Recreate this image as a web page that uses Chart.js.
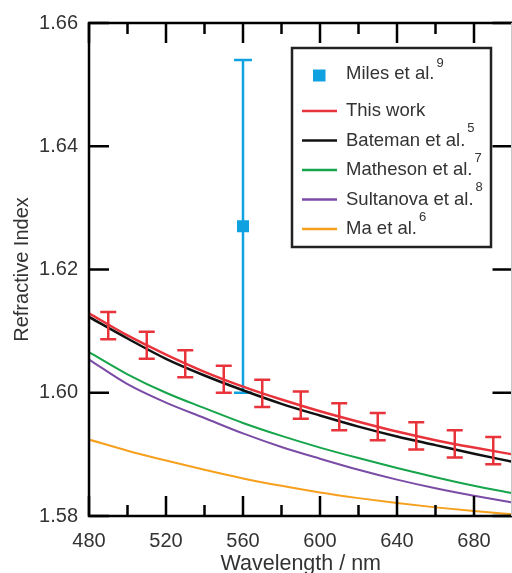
<!DOCTYPE html>
<html>
<head>
<meta charset="utf-8">
<script src="https://cdn.jsdelivr.net/npm/chart.js@4"></script>
<style>
  html, body { margin: 0; padding: 0; background: #fff; overflow: hidden; }
  #wrap { width: 521px; height: 573px; }
</style>
</head>
<body>
<div id="wrap"><canvas id="chart" width="521" height="573"></canvas></div>
<script>
// --- Data ---
const wavelengths = [480, 500, 520, 540, 560, 580, 600, 620, 640, 660, 680, 700];
const thisWork   = [1.6129, 1.6093, 1.6062, 1.6034, 1.6010, 1.5989, 1.5970, 1.5953, 1.5937, 1.5923, 1.5911, 1.5900];
const bateman    = [1.6123, 1.6088, 1.6055, 1.6028, 1.6004, 1.5982, 1.5963, 1.5945, 1.5929, 1.5915, 1.5901, 1.5888];
const matheson   = [1.6066, 1.6030, 1.6000, 1.5975, 1.5951, 1.5930, 1.5911, 1.5894, 1.5878, 1.5863, 1.5849, 1.5837];
const sultanova  = [1.6054, 1.6014, 1.5984, 1.5959, 1.5934, 1.5912, 1.5893, 1.5875, 1.5859, 1.5845, 1.5833, 1.5822];
const ma         = [1.5924, 1.5906, 1.5890, 1.5875, 1.5861, 1.5849, 1.5838, 1.5829, 1.5821, 1.5814, 1.5808, 1.5803];

const errWavelengths = [490, 510, 530, 550, 570, 590, 610, 630, 650, 670, 690];
const errCenters     = [1.6109, 1.6077, 1.6047, 1.6022, 1.5999, 1.5980, 1.5961, 1.5945, 1.5930, 1.5917, 1.5906];
const errSize        = [0.0022, 0.0022, 0.0022, 0.0022, 0.0022, 0.0022, 0.0022, 0.0022, 0.0022, 0.0022, 0.0022];

const milesX = [560];
const milesY = [1.627];
const milesErr = [0.027];

const xTicks = [480, 520, 560, 600, 640, 680];
const xMinor = [500, 540, 580, 620, 660, 700];
const yTicks = [1.58, 1.60, 1.62, 1.64, 1.66];

const COLORS = {
  red: '#e8333b', black: '#111111', green: '#16a54a',
  purple: '#7a4ca6', orange: '#f6a01e', blue: '#10a2e0'
};

const legendItems = [
  { label: 'This work', sup: '', color: COLORS.red },
  { label: 'Bateman et al.', sup: '5', color: COLORS.black },
  { label: 'Matheson et al.', sup: '7', color: COLORS.green },
  { label: 'Sultanova et al.', sup: '8', color: COLORS.purple },
  { label: 'Ma et al.', sup: '6', color: COLORS.orange }
];

const FONT = '"Liberation Sans", Arial, sans-serif';

function pts(xs, ys) { return xs.map((x, i) => ({ x, y: ys[i] })); }

function lineSet(label, ys, color, width) {
  return {
    label, data: pts(wavelengths, ys), borderColor: color, borderWidth: width,
    pointRadius: 0, fill: false, cubicInterpolationMode: 'monotone', showLine: true
  };
}

// --- Plugins ---
const errorBars = {
  id: 'errorBars',
  afterDatasetsDraw(chart) {
    const { ctx, scales: { x, y } } = chart;
    ctx.save();
    ctx.lineWidth = 2.5;
    // red error bars
    ctx.strokeStyle = COLORS.red;
    errWavelengths.forEach((w, i) => {
      const px = x.getPixelForValue(w);
      const top = y.getPixelForValue(errCenters[i] + errSize[i]);
      const bot = y.getPixelForValue(errCenters[i] - errSize[i]);
      ctx.beginPath();
      ctx.moveTo(px, top); ctx.lineTo(px, bot);
      ctx.moveTo(px - 8, top); ctx.lineTo(px + 8, top);
      ctx.moveTo(px - 8, bot); ctx.lineTo(px + 8, bot);
      ctx.stroke();
    });
    ctx.restore();
  },
  beforeDatasetsDraw(chart) {
    const { ctx, scales: { x, y } } = chart;
    ctx.save();
    ctx.lineWidth = 2.5;
    ctx.strokeStyle = COLORS.blue;
    milesX.forEach((w, i) => {
      const px = x.getPixelForValue(w);
      const top = y.getPixelForValue(milesY[i] + milesErr[i]);
      const bot = y.getPixelForValue(milesY[i] - milesErr[i]);
      ctx.beginPath();
      ctx.moveTo(px, top); ctx.lineTo(px, bot);
      ctx.moveTo(px - 9, top); ctx.lineTo(px + 9, top);
      ctx.moveTo(px - 9, bot); ctx.lineTo(px + 9, bot);
      ctx.stroke();
    });
    ctx.restore();
  }
};

const frame = {
  id: 'frame',
  afterDraw(chart) {
    const { ctx, chartArea: a, scales: { x, y } } = chart;
    ctx.save();
    ctx.strokeStyle = '#000';
    ctx.lineWidth = 2.5;
    ctx.strokeRect(a.left, a.top, a.right - a.left, a.bottom - a.top);
    ctx.beginPath();
    xTicks.forEach(v => {
      const px = x.getPixelForValue(v);
      ctx.moveTo(px, a.bottom); ctx.lineTo(px, a.bottom - 20);
      ctx.moveTo(px, a.top); ctx.lineTo(px, a.top + 20);
    });
    xMinor.forEach(v => {
      const px = x.getPixelForValue(v);
      ctx.moveTo(px, a.bottom); ctx.lineTo(px, a.bottom - 11);
      ctx.moveTo(px, a.top); ctx.lineTo(px, a.top + 11);
    });
    yTicks.forEach(v => {
      const py = y.getPixelForValue(v);
      ctx.moveTo(a.left, py); ctx.lineTo(a.left + 20, py);
      ctx.moveTo(a.right, py); ctx.lineTo(a.right - 20, py);
    });
    ctx.stroke();

    // light image edge line seen in the reference
    ctx.strokeStyle = '#c8c8c8';
    ctx.lineWidth = 1;
    ctx.beginPath();
    ctx.moveTo(511.5, a.top); ctx.lineTo(511.5, a.bottom);
    ctx.stroke();

    // legend box
    const L = 292, T = 48, W = 199, H = 199;
    ctx.fillStyle = '#fff';
    ctx.fillRect(L, T, W, H);
    ctx.strokeStyle = '#222';
    ctx.lineWidth = 2.5;
    ctx.strokeRect(L, T, W, H);

    ctx.textBaseline = 'middle';
    // Miles entry
    ctx.fillStyle = COLORS.blue;
    ctx.fillRect(313, 69.5, 12.5, 12);
    ctx.fillStyle = '#333';
    ctx.font = '18.5px ' + FONT;
    ctx.fillText('Miles et al.', 346, 74);
    const w = ctx.measureText('Miles et al.').width;
    ctx.font = '13px ' + FONT;
    ctx.fillText('9', 346 + w + 2, 63);

    legendItems.forEach((it, i) => {
      const yy = 111 + i * 29.5;
      ctx.strokeStyle = it.color;
      ctx.lineWidth = 2.5;
      ctx.beginPath();
      ctx.moveTo(302, yy); ctx.lineTo(337, yy);
      ctx.stroke();
      ctx.fillStyle = '#333';
      ctx.font = '18.5px ' + FONT;
      ctx.fillText(it.label, 346, yy);
      if (it.sup) {
        const tw = ctx.measureText(it.label).width;
        ctx.font = '13px ' + FONT;
        ctx.fillText(it.sup, 346 + tw + 2, yy - 12);
      }
    });
    ctx.restore();
  }
};

// --- Chart ---
new Chart(document.getElementById('chart'), {
  type: 'scatter',
  data: {
    datasets: [
      lineSet('Ma et al.', ma, COLORS.orange, 2),
      lineSet('Sultanova et al.', sultanova, COLORS.purple, 2),
      lineSet('Matheson et al.', matheson, COLORS.green, 2),
      lineSet('Bateman et al.', bateman, COLORS.black, 2.5),
      lineSet('This work', thisWork, COLORS.red, 2.5),
      {
        label: 'Miles et al.', data: pts(milesX, milesY), showLine: false,
        pointStyle: 'rect', pointRadius: 8.5, backgroundColor: COLORS.blue,
        borderWidth: 0
      }
    ]
  },
  options: {
    responsive: false,
    animation: false,
    devicePixelRatio: 1,
    layout: { padding: { top: 22, right: 0, left: 0, bottom: 0 } },
    plugins: { legend: { display: false }, tooltip: { enabled: false } },
    scales: {
      x: {
        type: 'linear', min: 480, max: 700,
        afterBuildTicks: s => { s.ticks = xTicks.map(v => ({ value: v })); },
        afterFit: s => { s.height = 57; },
        grid: { display: false, drawTicks: false },
        border: { display: false },
        ticks: { color: '#333', font: { family: FONT, size: 20 }, padding: 13, maxRotation: 0 },
        title: { display: true, text: 'Wavelength / nm', color: '#333', font: { family: FONT, size: 21.5 }, padding: { top: 0, bottom: -4 } }
      },
      y: {
        type: 'linear', min: 1.58, max: 1.66,
        afterBuildTicks: s => { s.ticks = yTicks.map(v => ({ value: v })); },
        afterFit: s => { s.width = 89; },
        grid: { display: false, drawTicks: false },
        border: { display: false },
        ticks: { color: '#333', font: { family: FONT, size: 20 }, padding: 11, callback: v => v.toFixed(2) },
        title: { display: true, text: 'Refractive Index', color: '#333', font: { family: FONT, size: 20 }, padding: { top: 10, bottom: 0 } }
      }
    }
  },
  plugins: [errorBars, frame]
});
</script>
</body>
</html>
